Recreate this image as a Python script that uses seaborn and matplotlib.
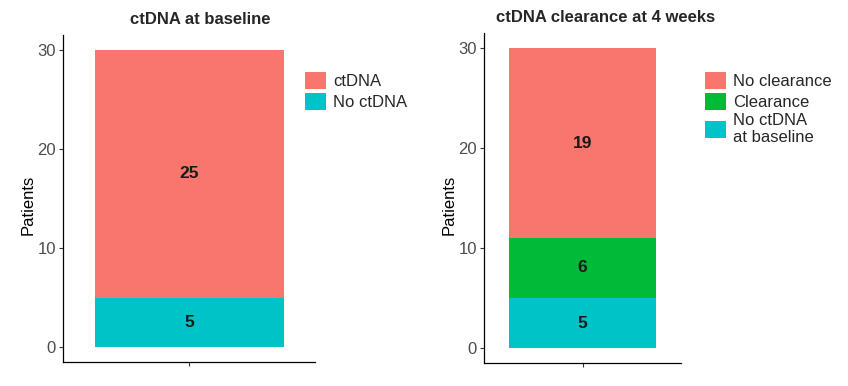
"""Stacked single-bar charts: ctDNA status at baseline and clearance at 4 weeks."""
import matplotlib
matplotlib.use("Agg")
import matplotlib.pyplot as plt
from matplotlib.patches import Patch
import numpy as np
import seaborn as sns

# data (bottom -> top)
baseline_labels = ["No ctDNA", "ctDNA"]
baseline_counts = [5, 25]
clearance_labels = ["No ctDNA\nat baseline", "Clearance", "No clearance"]
clearance_counts = [5, 6, 19]
panel_titles = ["ctDNA at baseline", "ctDNA clearance at 4 weeks"]
y_ticks = [0, 10, 20, 30]

COLORS = {
    "ctDNA": "#F8766D",
    "No clearance": "#F8766D",
    "Clearance": "#00BA38",
    "No ctDNA": "#00C3C8",
    "No ctDNA\nat baseline": "#00C3C8",
}

sns.set_theme(style="white")
plt.rcParams["font.family"] = ["Liberation Sans", "DejaVu Sans"]

fig = plt.figure(figsize=(8.48, 3.86), dpi=100)
W, H = 848, 386


def px_axes(left, top, right, bottom):
    return fig.add_axes([left / W, 1 - bottom / H, (right - left) / W, (bottom - top) / H])


def draw_panel(ax, labels, counts, ylabel_px, legend_xy):
    tops = np.cumsum(counts)
    # draw tallest first so shorter cumulative bars sit on top
    for lab, top in reversed(list(zip(labels, tops))):
        sns.barplot(x=[""], y=[top], color=COLORS[lab], width=0.9,
                    saturation=1, ax=ax, linewidth=0)
    for lab, top, n in zip(labels, tops, counts):
        ax.text(0, top - n / 2, str(n), ha="center", va="center",
                fontsize=12.5, fontweight="bold", color="#1a1a1a")
    ax.set_xlim(-0.6, 0.6)
    ax.set_ylim(-1.5, 31.5)
    ax.set_yticks(y_ticks)
    ax.set_xticks([0])
    ax.set_xticklabels([""])
    ax.set_xlabel("")
    ax.set_ylabel("Patients", fontsize=12, color="black")
    ax.yaxis.label.set_va("center")
    width_px = ax.get_position().width * W
    ax.yaxis.set_label_coords(-ylabel_px / width_px, 0.48)
    for s in ["top", "right"]:
        ax.spines[s].set_visible(False)
    for s in ["left", "bottom"]:
        ax.spines[s].set_color("black")
        ax.spines[s].set_linewidth(0.9)
    ax.tick_params(axis="both", length=3, width=0.8, color="#333333",
                   labelsize=12, labelcolor="#4D4D4D", left=True, bottom=True, pad=2)
    handles = [Patch(facecolor=COLORS[l], edgecolor="none") for l in reversed(labels)]
    fig.legend(handles, list(reversed(labels)), loc="upper left",
               bbox_to_anchor=(legend_xy[0] / W, 1 - legend_xy[1] / H),
               frameon=False, fontsize=12, borderpad=0, borderaxespad=0,
               handlelength=1.25, handleheight=1.2, handletextpad=0.45,
               labelspacing=0.2)


ax1 = px_axes(63, 35, 315, 362)
draw_panel(ax1, baseline_labels, baseline_counts, 35, (305, 72))
ax2 = px_axes(484, 33, 681, 363)
draw_panel(ax2, clearance_labels, clearance_counts, 35, (705, 72))

fig.text(200 / W, 1 - 20 / H, panel_titles[0], ha="center", va="center",
         fontsize=12, fontweight="bold")
fig.text(606 / W, 1 - 18 / H, panel_titles[1], ha="center", va="center",
         fontsize=12, fontweight="bold")

fig.savefig("out.png", dpi=100, facecolor="white")
